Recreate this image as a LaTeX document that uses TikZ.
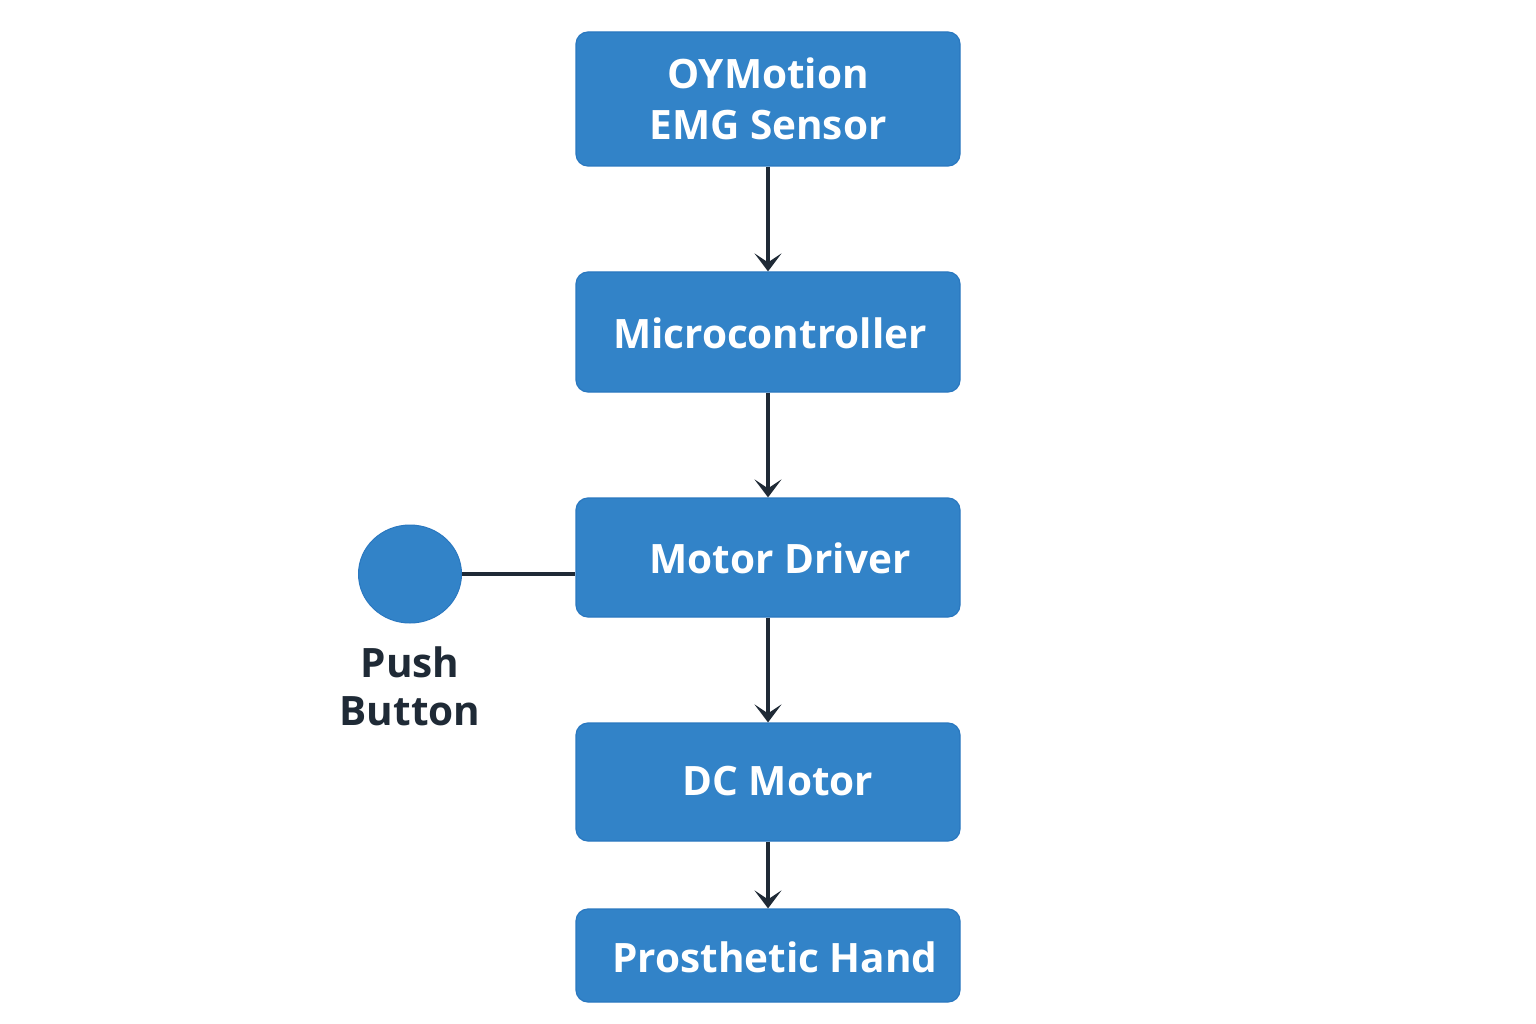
\documentclass[tikz,border=0pt]{standalone}
\usepackage{fontspec}
\setmainfont{Open Sans}
\usetikzlibrary{arrows.meta,shapes.geometric}
\definecolor{boxblue}{HTML}{3283C8}
\definecolor{boxedge}{HTML}{2A78C0}
\definecolor{darkline}{HTML}{1F2A36}
\tikzset{
  blockbox/.style={draw=boxedge, line width=1.2pt, fill=boxblue, rounded corners=12pt, minimum width=384pt, inner sep=0pt},
  blocktext/.style={text=white, font=\fontsize{40.5pt}{51pt}\selectfont\bfseries, align=center, inner sep=0pt},
  flowarrow/.style={draw=darkline, line width=3.6pt, -{Stealth[length=18pt,width=27pt,inset=9pt]}},
  plainline/.style={draw=darkline, line width=3.6pt},
}
\begin{document}
\begin{tikzpicture}[x=1pt,y=-1pt]
\useasboundingbox[fill=white] (0,0) rectangle (1536,1024);
\node[blockbox, minimum height=134pt] (emg) at (768,99) {};
\node[blockbox, minimum height=120pt] (mcu) at (768,332) {};
\node[blockbox, minimum height=119pt] (md) at (768,557.5) {};
\node[blockbox, minimum height=118pt] (dc) at (768,782) {};
\node[blockbox, minimum height=93pt] (ph) at (768,955.5) {};
\node[blocktext] (emgt) at (768,99) {OYMotion\\EMG Sensor};
\node[blocktext] (mcut) at (770,333) {Microcontroller};
\node[blocktext] (mdt) at (780,558) {Motor Driver};
\node[blocktext] (dct) at (778,781) {DC Motor};
\node[blocktext] (pht) at (775,957) {Prosthetic Hand};
\node[ellipse, draw=boxedge, line width=1pt, fill=boxblue, minimum width=103pt, minimum height=98pt, inner sep=0pt] (pb) at (410,574) {};
\node[text=darkline, font=\fontsize{40.5pt}{48pt}\selectfont\bfseries, align=center, inner sep=0pt] (pbt) at (410,686) {Push\\Button};
\draw[flowarrow] (emg.south) -- (mcu.north);
\draw[flowarrow] (mcu.south) -- (md.north);
\draw[flowarrow] (md.south) -- (dc.north);
\draw[flowarrow] (dc.south) -- (ph.north);
\draw[plainline] (pb) -- (pb -| md.west);
\end{tikzpicture}
\end{document}
